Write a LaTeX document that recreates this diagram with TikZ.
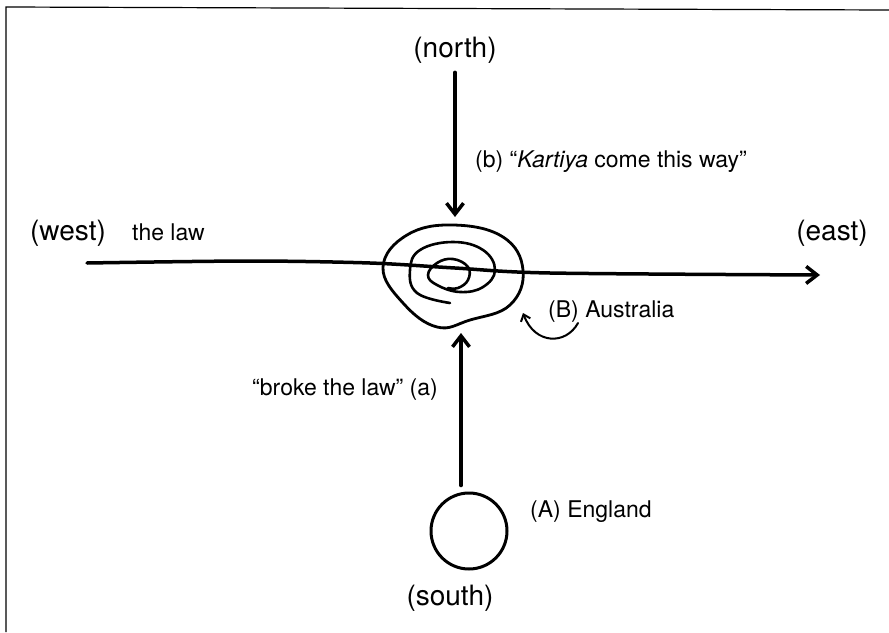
\documentclass[tikz,border=0pt]{standalone}
\usepackage{fontspec}
\setmainfont{TeX Gyre Heros}
\usetikzlibrary{positioning,arrows.meta}

\tikzset{
  bigtxt/.style={inner sep=0pt,font=\fontsize{28}{32}\selectfont},
  smalltxt/.style={inner sep=0pt,font=\fontsize{23}{27}\selectfont},
  ink/.style={line width=3.5pt,line cap=round,line join=round},
}

\begin{document}
\begin{tikzpicture}[x=1pt,y=-1pt,>={Straight Barb[length=11pt,width=17pt]}]
\useasboundingbox (0,0) rectangle (889,632);
% frame
\draw[line width=1.2pt] (6,632) -- (6,7) -- (889,10);

% compass points
\node[bigtxt] (north) at (455,50) {(north)};
\node[bigtxt] (south) at (450,598) {(south)};
\node[bigtxt] (west) at (68,233) {(west)};
\node[bigtxt] (east) at (832,233) {(east)};

% England
\node[draw,circle,line width=3pt,minimum size=76pt,inner sep=0pt] (england) at (469,531) {};
\node[smalltxt,anchor=west] (englandlbl) at (530,512) {(A) England};

% Australia (spiral)
\draw[ink,line width=2.8pt] plot[smooth cycle,tension=0.7] coordinates {(453,225) (503,237) (523,270) (510,305) (470,320) (437,327) (403,303) (383,267) (407,235)};
\draw[ink,line width=2.6pt] plot[smooth,tension=0.7] coordinates {(450,303) (417,293) (410,270) (420,250) (453,242) (483,250) (495,270) (483,287) (460,292) (437,285) (428,275) (437,263) (453,259) (468,267) (468,280) (458,288) (448,288)};
\coordinate (aus-n) at (455,217);
\coordinate (aus-s) at (461,333);
\coordinate (aus-e) at (523,313);

% the law, west to east
\draw[ink,->] plot[smooth] coordinates {(87,263) (250,261) (370,263) (455,268) (550,273) (820,275)};
\node[smalltxt,anchor=west] (law) at (132,232) {the law};

% arrows
\draw[ink,->] ([yshift=-9pt]north.south) -- (aus-n);
\node[smalltxt,anchor=west] (kartiya) at (475,162) {(b) “\textit{Kartiya} come this way”};
\draw[ink,->] ([xshift=-8pt,yshift=6pt]england.north) -- (aus-s);
\node[smalltxt,anchor=east] (broke) at (438,390) {“broke the law” (a)};
\node[smalltxt,anchor=west] (australia) at (548,312) {(B) Australia};
\draw[line width=2pt,line cap=round,-{Straight Barb[length=6pt,width=10pt]}] ([xshift=30pt]australia.south west) .. controls +(-12,22) and (535,345) .. (aus-e);
\end{tikzpicture}
\end{document}
